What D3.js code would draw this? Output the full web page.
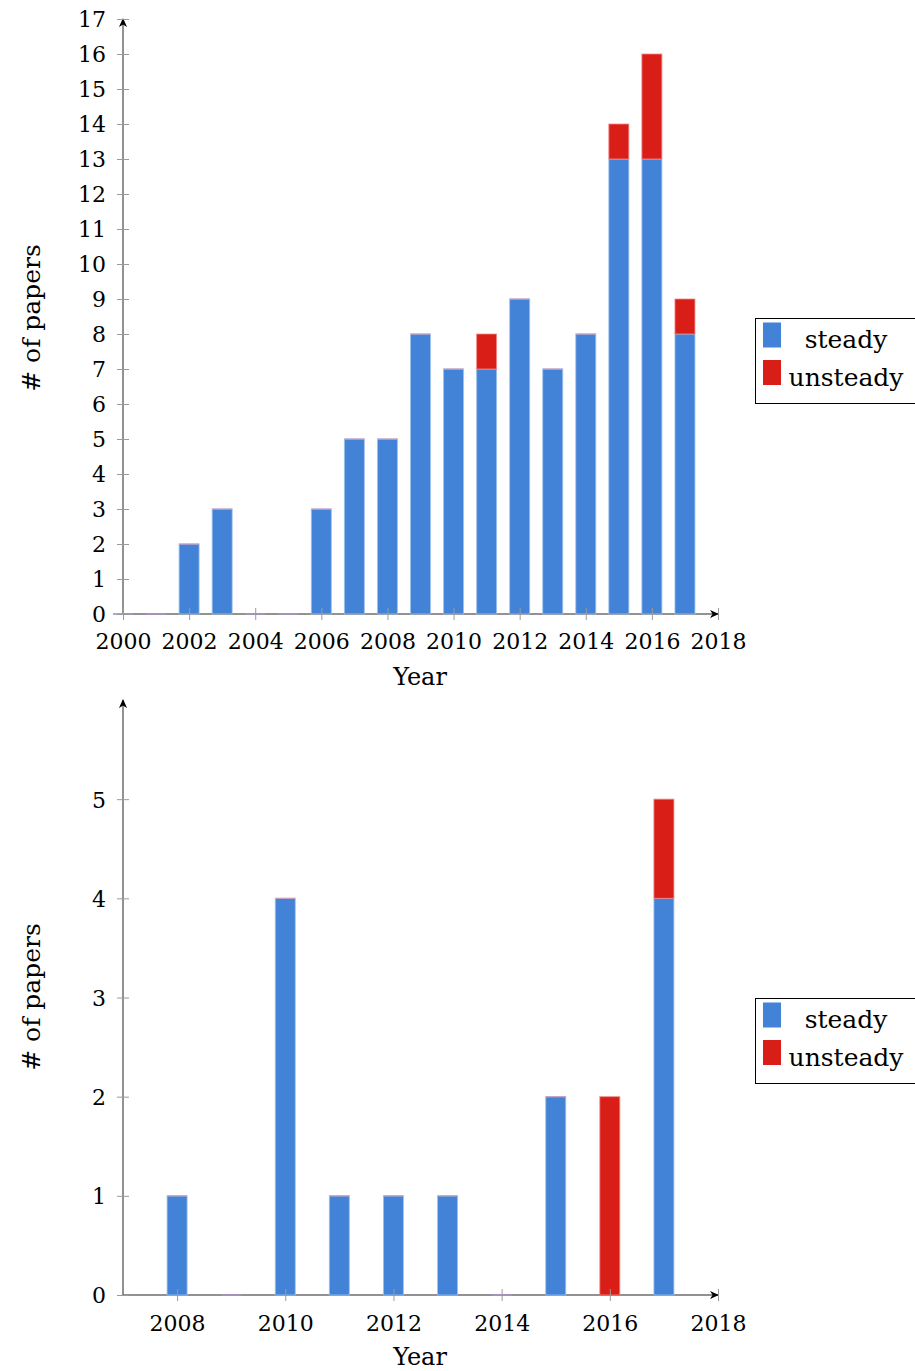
<!DOCTYPE html>
<html>
<head>
<meta charset="utf-8">
<script src="https://cdn.jsdelivr.net/npm/d3@7"></script>
<style>
  html, body { margin: 0; padding: 0; background: #fff; }
  svg { display: block; }
  text { font-family: "DejaVu Serif", serif; fill: #000; }
</style>
</head>
<body>
<svg id="chart" width="915" height="1371"></svg>
<script>
// Papers per year, all methods (top panel)
const yearsAll = [2000, 2001, 2002, 2003, 2004, 2005, 2006, 2007, 2008, 2009, 2010, 2011, 2012, 2013, 2014, 2015, 2016, 2017];
const steadyAll = [0, 0, 2, 3, 0, 0, 3, 5, 5, 8, 7, 7, 9, 7, 8, 13, 13, 8];
const unsteadyAll = [0, 0, 0, 0, 0, 0, 0, 0, 0, 0, 0, 1, 0, 0, 0, 1, 3, 1];
const xTicksAll = [2000, 2002, 2004, 2006, 2008, 2010, 2012, 2014, 2016, 2018];
const yTicksAll = d3.range(0, 18);

// Papers per year, subset (bottom panel)
const yearsSub = [2008, 2009, 2010, 2011, 2012, 2013, 2014, 2015, 2016, 2017];
const steadySub = [1, 0, 4, 1, 1, 1, 0, 2, 0, 4];
const unsteadySub = [0, 0, 0, 0, 0, 0, 0, 0, 2, 1];
const xTicksSub = [2008, 2010, 2012, 2014, 2016, 2018];
const yTicksSub = [0, 1, 2, 3, 4, 5];

const seriesNames = ["steady", "unsteady"];
const colors = { steady: "#4283d7", unsteady: "#d91e18" };
const strokes = { steady: "#9dc0ec", unsteady: "#f08a87" };
const zeroStrokes = { steady: "#5a6fc0", unsteady: "#c9a2c0" };

const svg = d3.select("#chart");
const defs = svg.append("defs");
defs.append("marker")
  .attr("id", "arrow")
  .attr("viewBox", "0 0 10 10")
  .attr("refX", 9).attr("refY", 5)
  .attr("markerWidth", 9).attr("markerHeight", 9)
  .attr("markerUnits", "userSpaceOnUse")
  .attr("orient", "auto")
  .append("path")
  .attr("d", "M0,0.5 L10,5 L0,9.5 L3,5 Z")
  .attr("fill", "#000");

function drawPanel(opt) {
  const g = svg.append("g");
  const x = d3.scaleLinear().domain(opt.xDomain).range([123, 718]);
  const y = d3.scaleLinear().domain(opt.yDomain).range([opt.y0, opt.yTop]);
  const barW = 20;

  const rows = opt.years.map((yr, i) => ({ year: yr, steady: opt.steady[i], unsteady: opt.unsteady[i] }));
  const stacked = d3.stack().keys(seriesNames)(rows);

  // axis lines (drawn under the bars)
  const axisG = g.append("g");

  // bars
  stacked.forEach(layer => {
    const key = layer.key;
    const lg = g.append("g");
    lg.selectAll("rect")
      .data(layer.filter(d => d[1] > d[0]))
      .join("rect")
      .attr("x", d => x(d.data.year) - barW / 2)
      .attr("y", d => y(d[1]))
      .attr("width", barW)
      .attr("height", d => y(d[0]) - y(d[1]))
      .attr("fill", colors[key])
      .attr("stroke", strokes[key])
      .attr("stroke-opacity", 0.8)
      .attr("stroke-width", 1);
    // empty segments still leave a thin edge
    lg.selectAll("line")
      .data(layer.filter(d => d[1] === d[0]))
      .join("line")
      .attr("x1", d => x(d.data.year) - barW / 2)
      .attr("x2", d => x(d.data.year) + barW / 2)
      .attr("y1", d => y(d[1]))
      .attr("y2", d => y(d[1]))
      .attr("stroke", zeroStrokes[key])
      .attr("stroke-width", 1.2);
  });

  axisG.append("line")
    .attr("x1", x(opt.xDomain[0])).attr("x2", x(opt.xDomain[1]))
    .attr("y1", opt.y0).attr("y2", opt.y0)
    .attr("stroke", "#6e6e6e").attr("stroke-width", 1.5)
    .attr("marker-end", "url(#arrow)");
  axisG.append("line")
    .attr("x1", x(opt.xDomain[0])).attr("x2", x(opt.xDomain[0]))
    .attr("y1", opt.y0).attr("y2", y(opt.yDomain[1]))
    .attr("stroke", "#6e6e6e").attr("stroke-width", 1.5)
    .attr("marker-end", "url(#arrow)");

  // x ticks
  const xAxis = g.append("g").attr("transform", `translate(0,${opt.y0})`)
    .call(d3.axisBottom(x).tickValues(opt.xTicks).tickFormat(d3.format("d")).tickSize(6).tickSizeOuter(0));
  xAxis.select(".domain").remove();
  xAxis.selectAll(".tick line").attr("y1", -6).attr("y2", 6).attr("stroke", "#9a9a9a").attr("stroke-width", 1);
  xAxis.selectAll(".tick text")
    .attr("y", opt.xLabelDy).attr("dy", null)
    .style("font-size", "22px").style("font-family", "DejaVu Serif, serif").attr("fill", "#000");

  // y ticks
  const yAxis = g.append("g").attr("transform", `translate(${x(opt.xDomain[0])},0)`)
    .call(d3.axisLeft(y).tickValues(opt.yTicks).tickFormat(d3.format("d")).tickSize(6).tickSizeOuter(0));
  yAxis.select(".domain").remove();
  yAxis.selectAll(".tick line").attr("x1", -6).attr("x2", 6).attr("stroke", "#9a9a9a").attr("stroke-width", 1);
  yAxis.selectAll(".tick text")
    .attr("x", -17).attr("dy", "0.36em")
    .style("font-size", "22px").style("font-family", "DejaVu Serif, serif").attr("fill", "#000");

  // axis titles
  g.append("text")
    .attr("x", 420).attr("y", opt.y0 + opt.xTitleDy)
    .attr("text-anchor", "middle")
    .style("font-size", "24px")
    .text("Year");
  g.append("text")
    .attr("transform", `translate(40,${opt.yTitleCenter}) rotate(-90)`)
    .attr("text-anchor", "middle")
    .style("font-size", "25px")
    .text("# of papers");

  // legend
  const lg = g.append("g").attr("transform", `translate(755,${opt.legendTop})`);
  lg.append("rect")
    .attr("x", 0.5).attr("y", 0.5).attr("width", 170).attr("height", 85)
    .attr("fill", "#fff").attr("stroke", "#000").attr("stroke-width", 1);
  seriesNames.forEach((name, i) => {
    lg.append("rect")
      .attr("x", 8).attr("y", 4.5 + i * 37.5).attr("width", 18).attr("height", 25)
      .attr("fill", colors[name]);
    lg.append("text")
      .attr("x", 91).attr("y", 30 + i * 38)
      .attr("text-anchor", "middle")
      .style("font-size", "25px")
      .text(name);
  });
}

drawPanel({
  years: yearsAll, steady: steadyAll, unsteady: unsteadyAll,
  xDomain: [2000, 2018], yDomain: [0, 17],
  xTicks: xTicksAll, yTicks: yTicksAll,
  y0: 614, yTop: 19,
  xLabelDy: 35, xTitleDy: 71, yTitleCenter: 318,
  legendTop: 318
});

drawPanel({
  years: yearsSub, steady: steadySub, unsteady: unsteadySub,
  xDomain: [2007, 2018], yDomain: [0, 6],
  xTicks: xTicksSub, yTicks: yTicksSub,
  y0: 1295, yTop: 700,
  xLabelDy: 36, xTitleDy: 70, yTitleCenter: 997,
  legendTop: 998
});
</script>
</body>
</html>
